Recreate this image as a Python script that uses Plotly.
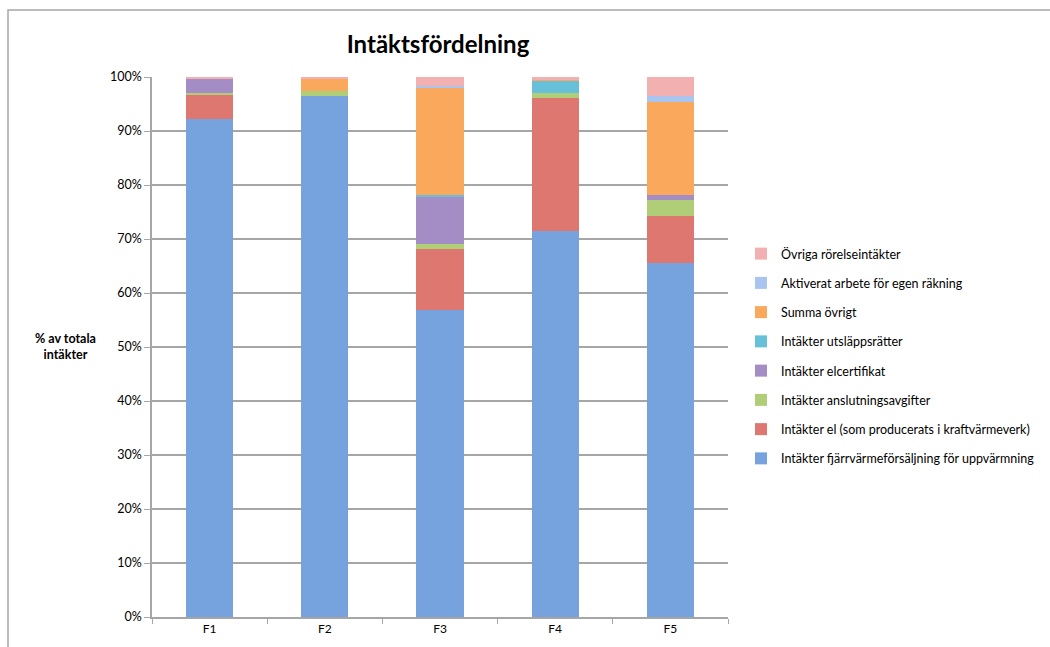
import plotly.graph_objects as go

categories = ["F1", "F2", "F3", "F4", "F5"]

series_names = [
    "Intäkter fjärrvärmeförsäljning för uppvärmning",
    "Intäkter el (som producerats i kraftvärmeverk)",
    "Intäkter anslutningsavgifter",
    "Intäkter elcertifikat",
    "Intäkter utsläppsrätter",
    "Summa övrigt",
    "Aktiverat arbete för egen räkning",
    "Övriga rörelseintäkter",
]

fjarrvarme = [92.2, 96.4, 56.9, 71.4, 65.6]
el = [4.5, 0.0, 11.2, 24.8, 8.7]
anslutning = [0.3, 1.0, 1.0, 0.8, 2.9]
elcertifikat = [2.6, 0.0, 8.6, 0.0, 0.9]
utslapp = [0.0, 0.0, 0.4, 2.3, 0.0]
ovrigt = [0.0, 2.2, 20.0, 0.2, 17.3]
aktiverat = [0.0, 0.0, 0.3, 0.0, 1.1]
ovriga_rorelse = [0.4, 0.4, 1.6, 0.5, 3.5]

series_values = [fjarrvarme, el, anslutning, elcertifikat, utslapp,
                 ovrigt, aktiverat, ovriga_rorelse]

colors = ["#76A3DE", "#DE7770", "#B0CD78", "#A48CC4", "#67C0D9",
          "#F9A85C", "#A9C4EE", "#F2B0B0"]

y_ticks = [0, 10, 20, 30, 40, 50, 60, 70, 80, 90, 100]
y_tick_labels = [f"{v}%" for v in y_ticks]

FONT = "Lato, 'Open Sans', sans-serif"

fig = go.Figure()
n = len(series_names)
for i, (name, vals, col) in enumerate(zip(series_names, series_values, colors)):
    fig.add_trace(go.Bar(
        x=categories, y=vals, name=name,
        marker=dict(color=col, line=dict(width=0)),
        legendgroup=f"g{i}",
        legendrank=1000 + (n - i),
    ))

fig.update_layout(
    barmode="stack",
    bargap=0.59,
    width=1050, height=647,
    margin=dict(l=152, r=322, t=77, b=30, autoexpand=False),
    paper_bgcolor="white", plot_bgcolor="white",
    font=dict(family=FONT, size=12, color="#000000"),
    title=dict(text="<b>Intäktsfördelning</b>", x=438 / 1050, xanchor="center",
               y=1 - 45 / 647, yanchor="middle",
               font=dict(family=FONT, size=24, color="#000000")),
    showlegend=True,
    legend=dict(
        traceorder="grouped",
        tracegroupgap=10,
        x=(741 - 152) / 576, xanchor="left",
        y=0.70, yanchor="top",
        font=dict(family=FONT, size=12.5, color="#000000"),
        itemwidth=30,
        bgcolor="rgba(0,0,0,0)",
    ),
    xaxis=dict(
        showgrid=False,
        showline=True, linecolor="#A6A6A6", linewidth=1.5,
        ticks="outside", tickson="boundaries", ticklen=5, tickcolor="#A6A6A6",
        tickfont=dict(family=FONT, size=12),
    ),
    yaxis=dict(
        range=[0, 100],
        tickvals=y_ticks, ticktext=y_tick_labels,
        showgrid=True, gridcolor="#A6A6A6", gridwidth=1.5,
        showline=True, linecolor="#A6A6A6", linewidth=1.5,
        ticks="outside", ticklen=6, tickcolor="#A6A6A6",
        tickfont=dict(family=FONT, size=12.5),
        zeroline=False,
    ),
    annotations=[dict(
        text="<b>% av totala<br>intäkter</b>",
        xref="paper", yref="paper",
        x=(65 - 152) / 576, y=(617 - 346) / 540,
        xanchor="center", yanchor="middle",
        showarrow=False, align="center",
        font=dict(family=FONT, size=12.5, color="#000000"),
    )],
    shapes=[dict(
        type="rect", xref="paper", yref="paper",
        x0=(8 - 152) / 576, x1=(1070 - 152) / 576,
        y0=(617 - 680) / 540, y1=(617 - 10) / 540,
        line=dict(color="#A6A6A6", width=1.5),
        fillcolor="rgba(0,0,0,0)", layer="below",
    )],
)

fig.write_html("out.html")
